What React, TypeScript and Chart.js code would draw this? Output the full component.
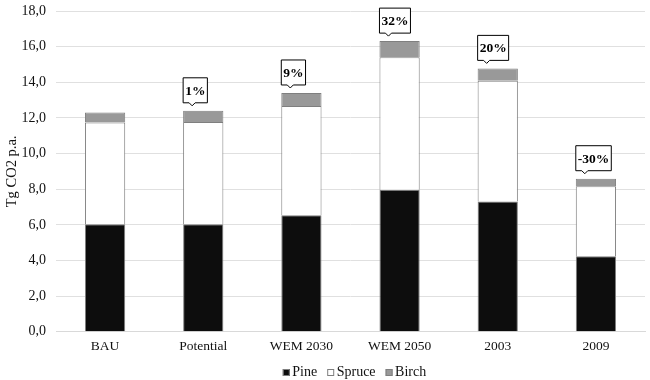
import React, { useEffect, useRef } from "react";
import { Chart, registerables } from "chart.js";

Chart.register(...registerables);

const categories = ["BAU", "Potential", "WEM 2030", "WEM 2050", "2003", "2009"];
const pine = [6.04, 6.04, 6.54, 7.97, 7.31, 4.24];
const spruce = [5.71, 5.73, 6.13, 7.44, 6.77, 3.92];
const birch = [0.55, 0.63, 0.73, 0.9, 0.7, 0.43];
const changeLabels = ["", "1%", "9%", "32%", "20%", "-30%"];
const yTicks = { min: 0, max: 18, step: 2 };

const FONT = "'Liberation Serif', 'Times New Roman', serif";

const calloutPlugin = {
  id: "callouts",
  afterDatasetsDraw(chart: any) {
    const ctx = chart.ctx;
    const meta = chart.getDatasetMeta(2);
    ctx.save();
    ctx.font = `bold 13.5px ${FONT}`;
    meta.data.forEach((bar: any, i: number) => {
      const label = changeLabels[i];
      if (!label) return;
      const tw = ctx.measureText(label).width;
      const w = tw + 4;
      const h = 25;
      const left = bar.x - bar.width / 2;
      const tipY = bar.y - 5;
      const bottom = tipY - 3;
      const top = bottom - h;
      const px = left + 9;
      ctx.beginPath();
      ctx.moveTo(left, top);
      ctx.lineTo(left + w, top);
      ctx.lineTo(left + w, bottom);
      ctx.lineTo(px + 3, bottom);
      ctx.lineTo(px, tipY);
      ctx.lineTo(px - 3, bottom);
      ctx.lineTo(left, bottom);
      ctx.closePath();
      ctx.fillStyle = "#ffffff";
      ctx.fill();
      ctx.strokeStyle = "#000000";
      ctx.lineWidth = 1;
      ctx.stroke();
      ctx.fillStyle = "#000000";
      ctx.textAlign = "center";
      ctx.textBaseline = "middle";
      ctx.fillText(label, left + w / 2, top + h / 2 + 1);
    });
    ctx.restore();
  },
};

const legendPlugin = {
  id: "bottomLegend",
  afterDraw(chart: any) {
    const ctx = chart.ctx;
    const ds = chart.data.datasets;
    const box = 7;
    const gapText = 2.5;
    const gapItem = 10;
    ctx.save();
    ctx.font = `14px ${FONT}`;
    const widths = ds.map((d: any) => ctx.measureText(d.label).width);
    const total = widths.reduce((a: number, w: number) => a + box + gapText + w, 0) + gapItem * (ds.length - 1);
    const ca = chart.chartArea;
    let x = (ca.left + ca.right) / 2 + 4 - total / 2;
    const cy = 372.5;
    ds.forEach((d: any, i: number) => {
      ctx.fillStyle = d.backgroundColor;
      ctx.fillRect(x, cy - box / 2, box, box);
      ctx.strokeStyle = d.borderColor;
      ctx.lineWidth = 1;
      ctx.strokeRect(x + 0.5, cy - box / 2 + 0.5, box - 1, box - 1);
      ctx.fillStyle = "#111";
      ctx.textAlign = "left";
      ctx.textBaseline = "middle";
      ctx.fillText(d.label, x + box + gapText, cy);
      x += box + gapText + widths[i] + gapItem;
    });
    ctx.restore();
  },
};

export default function App() {
  const ref = useRef<HTMLCanvasElement>(null);
  useEffect(() => {
    if (!ref.current) return;
    const border = "#7f7f7f";
    const chart = new Chart(ref.current, {
      type: "bar",
      data: {
        labels: categories,
        datasets: [
          { label: "Pine", data: pine, backgroundColor: "#0d0d0d", borderColor: border, borderWidth: 1 },
          { label: "Spruce", data: spruce, backgroundColor: "#ffffff", borderColor: border, borderWidth: 1 },
          { label: "Birch", data: birch, backgroundColor: "#999999", borderColor: border, borderWidth: 1 },
        ],
      },
      options: {
        animation: false,
        responsive: false,
        layout: { padding: { top: 0, right: 5, left: 0, bottom: 18 } },
        datasets: { bar: { barPercentage: 0.41, categoryPercentage: 1 } },
        scales: {
          x: {
            stacked: true,
            grid: { display: false, drawTicks: false },
            border: { color: "#d9d9d9" },
            ticks: { color: "#111", font: { family: FONT, size: 13.5 }, padding: 7 },
          },
          y: {
            stacked: true,
            min: yTicks.min,
            max: yTicks.max,
            afterFit: (s: any) => { s.width = 56; s.paddingTop = 11; },
            border: { display: false },
            grid: { color: "#e0e0e0", drawTicks: false },
            ticks: {
              stepSize: yTicks.step,
              padding: 10,
              color: "#111",
              font: { family: FONT, size: 14 },
              callback: (v: any) => Number(v).toFixed(1).replace(".", ","),
            },
            title: { display: true, text: "Tg CO2 p.a.", color: "#111", font: { family: FONT, size: 14.5 }, padding: 3 },
          },
        },
        plugins: {
          legend: { display: false },
          tooltip: { enabled: false },
        },
      },
      plugins: [calloutPlugin, legendPlugin],
    } as any);
    return () => chart.destroy();
  }, []);
  return (
    <div style={{ position: "fixed", left: 0, top: 0, width: 650, height: 380, background: "#fff" }}>
      <canvas ref={ref} width={650} height={380} />
    </div>
  );
}
